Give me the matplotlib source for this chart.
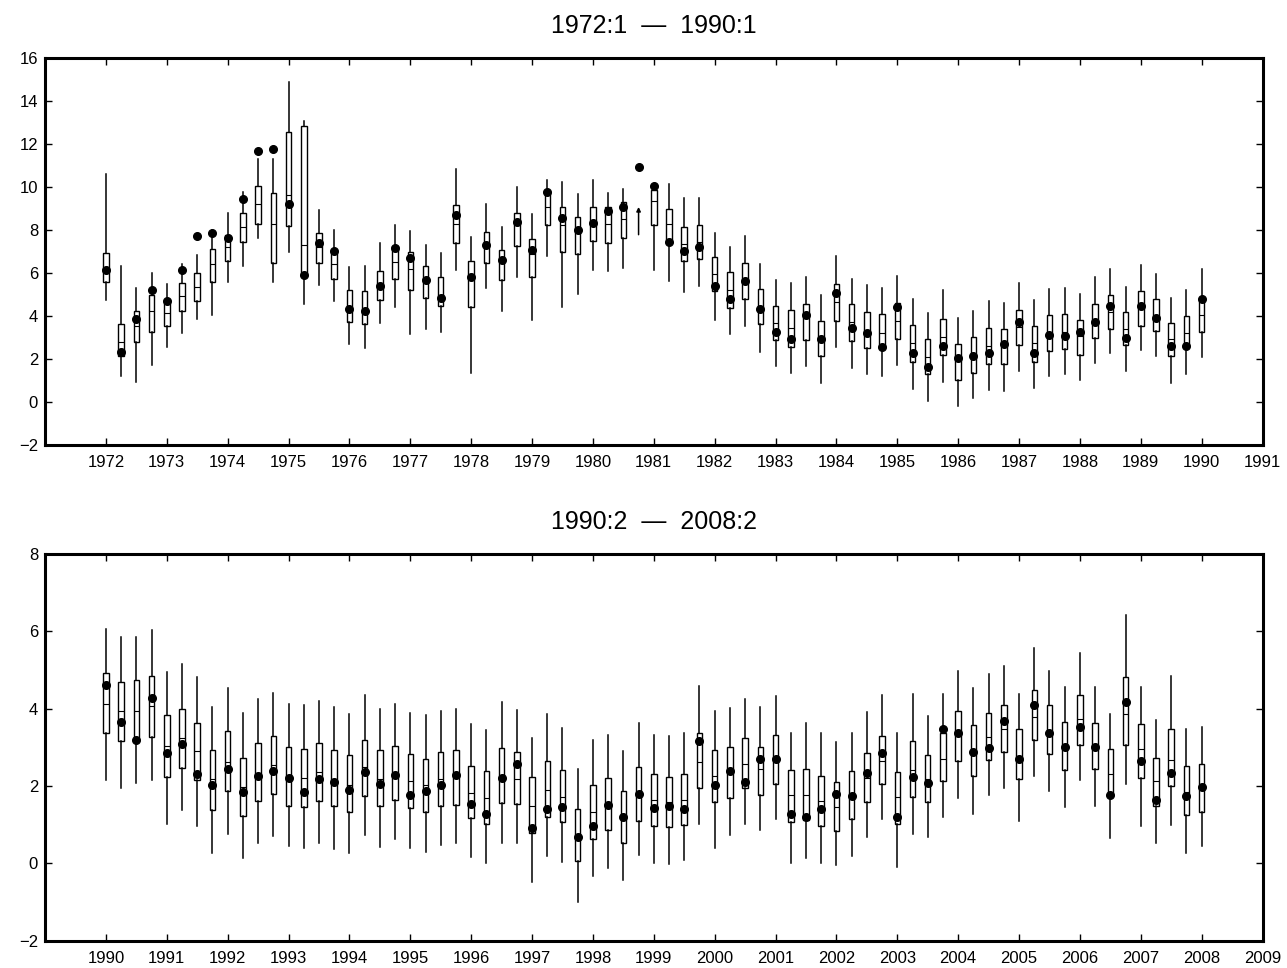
"""
Quarterly box plots of forecast distributions with realised values, two periods.
Box = interquartile range, line = median, whiskers = outer band, dot = actual.
"""

import numpy as np
import matplotlib
matplotlib.use("Agg")
import matplotlib.pyplot as plt

plt.rcParams['font.family'] = ['Liberation Sans', 'DejaVu Sans']

# ── data ────────────────────────────────────────────────────────────────────
TOP_START = 1972   # 1972:1 .. 1990:1
BOT_START = 1990   # 1990:2 .. 2008:2
TOP_TITLE = "1972:1  \u2014  1990:1"
BOT_TITLE = "1990:2  \u2014  2008:2"

# top panel (nan = no quartiles available, range only)
top_hi = [10.63, 6.32, 5.31, 6.01, 5.50, 6.43, 6.85, 8.03, 8.78, 9.77, 11.30, 11.30,
          14.87, 13.08, 8.92, 8.03, 6.28, 6.32, 7.41, 8.22, 7.97, 7.30, 6.96, 10.86,
          7.68, 9.20, 8.16, 10.02, 8.73, 10.35, 10.26, 9.67, 10.35, 9.74, 9.91, 9.08,
          10.16, 10.16, 9.49, 9.49, 7.85, 7.21, 7.75, 6.43, 5.69, 5.56, 5.84, 5.00,
          6.81, 5.73, 5.45, 5.31, 5.87, 4.80, 4.16, 5.21, 3.92, 4.24, 4.71, 4.62,
          5.55, 4.76, 5.27, 5.31, 5.03, 5.81, 6.20, 5.38, 6.39, 5.94, 4.83, 5.24, 6.20]
top_q3 = [6.95, 3.64, 4.23, 4.99, 4.62, 5.53, 6.00, 7.13, 7.79, 8.81, 10.04, 9.73,
          12.56, 12.85, 7.85, 7.01, 5.22, 5.16, 6.11, 7.26, 6.99, 6.32, 5.83, 9.18,
          6.56, 7.93, 7.09, 8.80, 7.61, 9.79, 9.09, 8.61, 9.09, 9.08, 9.31, np.nan,
          9.88, 8.98, 8.17, 8.24, 6.73, 6.06, 6.46, 5.27, 4.49, 4.29, 4.57, 3.78,
          5.50, 4.57, 4.18, 4.09, 4.60, 3.57, 2.95, 3.89, 2.70, 3.05, 3.43, 3.40,
          4.29, 3.53, 4.06, 4.09, 3.82, 4.57, 4.99, 4.18, 5.19, 4.80, 3.68, 3.99, 4.82]
top_med = [6.20, 2.81, 3.56, 4.26, 4.15, 4.93, 5.35, 6.43, 7.21, 8.14, 9.20, 8.31,
           9.65, 7.29, 7.21, 6.43, 4.34, 4.26, 5.42, 6.53, 6.18, 5.66, 4.96, 8.27,
           5.81, 7.32, 6.62, 8.22, 6.87, 9.06, 8.22, 7.91, 8.33, 8.28, 8.50, np.nan,
           9.36, 8.27, 7.37, 7.44, 5.97, 5.24, 5.66, 4.34, 3.68, 3.43, 3.90, 2.98,
           4.65, 3.71, 3.33, 3.23, 3.79, 2.75, 2.11, 3.05, 1.93, 2.16, 2.63, 2.63,
           3.51, 2.75, 3.20, 3.28, 3.09, 3.75, 4.18, 3.40, 4.44, 4.02, 2.94, 3.22, 4.07]
top_q1 = [5.61, 2.16, 2.81, 3.28, 3.56, 4.26, 4.72, 5.58, 6.56, 7.44, 8.28, 6.46,
          8.21, 5.97, 6.48, 5.72, 3.75, 3.64, 4.76, 5.73, 5.22, 4.86, 4.48, 7.41,
          4.44, 6.48, 5.69, 7.27, 5.81, 8.24, 6.98, 6.90, 7.51, 7.41, 7.63, np.nan,
          8.24, 7.54, 6.56, 6.67, 5.16, 4.38, 4.80, 3.64, 2.89, 2.58, 2.91, 2.13,
          3.79, 2.86, 2.52, 2.55, 2.94, 1.88, 1.31, 2.19, 1.04, 1.35, 1.77, 1.77,
          2.66, 1.86, 2.39, 2.47, 2.22, 2.98, 3.40, 2.66, 3.53, 3.33, 2.13, 2.61, 3.28]
top_lo = [4.76, 1.23, 0.92, 1.72, 2.55, 3.20, 3.87, 4.06, 5.58, 6.32, 7.65, 5.58,
          6.98, 4.57, 5.47, 4.69, 2.70, 2.50, 3.67, 4.41, 3.17, 3.39, 3.25, 6.15,
          1.38, 5.30, 4.23, 5.81, 3.82, 6.79, 4.41, 5.02, 6.14, 6.11, 6.23, 7.79,
          6.17, 5.63, 5.13, 5.39, 3.84, 3.17, 3.53, 2.35, 1.68, 1.35, 1.69, 0.90,
          2.56, 1.60, 1.31, 1.21, 1.72, 0.61, 0.08, 0.96, -0.19, 0.19, 0.59, 0.54,
          1.46, 0.64, 1.23, 1.31, 1.04, 1.82, 2.27, 1.43, 2.42, 2.16, 0.89, 1.31, 2.11]
top_actual = [6.17, 2.35, 3.85, 5.24, 4.69, 6.17, 7.72, 7.85, 7.63, 9.45, 11.69, 11.79,
              9.20, 5.92, 7.40, 7.01, 4.34, 4.24, 5.39, 7.16, 6.70, 5.67, 4.83, 8.70,
              5.81, 7.30, 6.60, 8.38, 7.09, 9.77, 8.58, 7.99, 8.33, 8.87, 9.08, 10.94,
              10.04, 7.47, 7.02, 7.24, 5.39, 4.82, 5.66, 4.34, 3.25, 2.94, 4.06, 2.95,
              5.07, 3.43, 3.20, 2.55, 4.41, 2.27, 1.65, 2.61, 2.04, 2.13, 2.27, 2.69,
              3.71, 2.28, 3.14, 3.06, 3.28, 3.71, 4.49, 3.01, 4.49, 3.93, 2.63, 2.61, 4.82]

# bottom panel
bot_hi = [6.06, 5.86, 5.86, 6.03, 4.94, 5.14, 4.81, 4.03, 4.52, 3.88, 4.26, 4.41,
          4.12, 4.09, 4.20, 4.03, 3.85, 4.35, 3.99, 4.13, 3.88, 3.83, 3.95, 3.98,
          3.60, 3.44, 4.17, 3.96, 3.23, 3.85, 3.51, 2.45, 3.18, 3.33, 2.91, 3.62,
          3.33, 3.29, 3.38, 4.58, 3.94, 4.01, 4.25, 4.03, 4.32, 3.38, 3.63, 3.38,
          3.14, 3.37, 3.91, 4.35, 3.38, 4.37, 3.81, 4.38, 4.96, 4.54, 4.89, 5.09,
          4.37, 5.56, 4.98, 4.57, 5.43, 4.56, 3.86, 6.41, 4.57, 3.70, 4.84, 3.47, 3.53]
bot_q3 = [4.91, 4.69, 4.75, 4.85, 3.84, 3.98, 3.64, 2.93, 3.41, 2.73, 3.12, 3.30,
          3.01, 2.96, 3.10, 2.93, 2.79, 3.20, 2.93, 3.04, 2.82, 2.71, 2.89, 2.93,
          2.52, 2.38, 2.97, 2.89, 2.22, 2.65, 2.41, 1.40, 2.02, 2.20, 1.86, 2.49,
          2.31, 2.24, 2.30, 3.37, 2.92, 3.00, 3.24, 3.01, 3.31, 2.42, 2.45, 2.27,
          2.10, 2.39, 2.86, 3.30, 2.35, 3.16, 2.80, 3.38, 3.94, 3.57, 3.88, 4.08,
          3.47, 4.48, 4.08, 3.65, 4.36, 3.64, 2.95, 4.81, 3.61, 2.73, 3.47, 2.51, 2.57]
bot_med = [4.11, 3.94, 3.94, 4.07, 3.03, 3.23, 2.90, 2.18, 2.61, 1.98, 2.33, 2.55,
           2.20, 2.20, 2.35, 2.18, 2.02, 2.50, 2.17, 2.28, 2.13, 2.02, 2.19, 2.28,
           1.83, 1.68, 2.22, 2.19, 1.49, 1.90, 1.71, 0.69, 1.32, 1.52, 1.21, 1.78,
           1.63, 1.59, 1.65, 2.62, 2.27, 2.39, 2.58, 2.43, 2.70, 1.78, 1.76, 1.62,
           1.46, 1.75, 2.21, 2.65, 1.72, 2.41, 2.19, 2.71, 3.36, 2.88, 3.27, 3.47,
           2.77, 3.79, 3.38, 3.00, 3.72, 3.02, 2.30, 3.87, 2.95, 2.14, 2.67, 1.85, 1.98]
bot_q1 = [3.36, 3.15, 3.19, 3.26, 2.22, 2.47, 2.15, 1.38, 1.87, 1.22, 1.61, 1.80,
          1.49, 1.46, 1.61, 1.48, 1.34, 1.74, 1.48, 1.64, 1.42, 1.32, 1.49, 1.52,
          1.18, 1.02, 1.57, 1.53, 0.78, 1.19, 1.06, 0.06, 0.63, 0.86, 0.52, 1.10,
          0.96, 0.94, 0.99, 1.96, 1.58, 1.70, 1.94, 1.77, 2.06, 1.08, 1.12, 0.96,
          0.85, 1.14, 1.60, 2.05, 1.01, 1.71, 1.59, 2.13, 2.64, 2.27, 2.67, 2.87,
          2.17, 3.19, 2.82, 2.41, 3.06, 2.44, 1.77, 3.06, 2.20, 1.48, 2.01, 1.25, 1.32]
bot_lo = [2.15, 1.94, 2.08, 2.15, 1.02, 1.38, 0.98, 0.28, 0.76, 0.13, 0.52, 0.70,
          0.45, 0.41, 0.53, 0.37, 0.28, 0.73, 0.42, 0.63, 0.40, 0.30, 0.48, 0.52,
          0.17, 0.02, 0.54, 0.53, -0.47, 0.19, 0.04, -0.99, -0.32, -0.13, -0.43, 0.21,
          0.02, -0.02, 0.10, 1.01, 0.41, 0.73, 1.02, 0.86, 1.16, 0.02, 0.15, 0.00,
          -0.05, 0.19, 0.69, 1.14, -0.10, 0.75, 0.69, 1.21, 1.70, 1.27, 1.77, 1.96,
          1.10, 2.27, 1.87, 1.45, 2.15, 1.48, 0.67, 2.05, 0.98, 0.52, 1.00, 0.28, 0.46]
bot_actual = [4.62, 3.66, 3.20, 4.27, 2.84, 3.09, 2.31, 2.03, 2.45, 1.85, 2.27, 2.39,
              2.20, 1.85, 2.19, 2.10, 1.91, 2.37, 2.06, 2.28, 1.77, 1.88, 2.02, 2.29,
              1.53, 1.27, 2.20, 2.57, 0.92, 1.40, 1.47, 0.68, 0.96, 1.52, 1.21, 1.79,
              1.42, 1.49, 1.41, 3.17, 2.02, 2.39, 2.10, 2.70, 2.70, 1.27, 1.21, 1.40,
              1.79, 1.75, 2.34, 2.86, 1.20, 2.24, 2.08, 3.47, 3.36, 2.88, 2.99, 3.69,
              2.71, 4.09, 3.38, 3.00, 3.53, 3.02, 1.77, 4.17, 2.64, 1.65, 2.33, 1.74, 1.98]


def draw_panel(ax, start, hi, q3, med, q1, lo, actual, title, ylim):
    hi, q3, med, q1, lo = map(np.asarray, (hi, q3, med, q1, lo))
    x = start + np.arange(len(hi)) / 4.0

    ok = ~np.isnan(med)
    stats = [dict(whislo=lo[i], q1=q1[i], med=med[i], q3=q3[i], whishi=hi[i], fliers=[])
             for i in np.where(ok)[0]]
    ax.bxp(stats, positions=x[ok], widths=0.09, showcaps=False, showfliers=False,
           patch_artist=True, manage_ticks=False,
           boxprops=dict(facecolor='white', edgecolor='black', linewidth=1.0),
           medianprops=dict(color='black', linewidth=0.8),
           whiskerprops=dict(color='black', linewidth=1.1))

    # quarters with only a range: draw it as an arrow
    for i in np.where(~ok)[0]:
        ax.annotate("", xy=(x[i], hi[i]), xytext=(x[i], lo[i]),
                    arrowprops=dict(arrowstyle='-|>', color='black', lw=1.1,
                                    mutation_scale=6, shrinkA=0, shrinkB=0))

    ax.plot(x, actual, 'o', color='black', ms=5.5, zorder=5)

    ax.set_xlim(start - 1, start + 19)
    ax.set_xticks(np.arange(start, start + 20))
    ax.set_ylim(*ylim)
    ax.set_yticks(np.arange(ylim[0], ylim[1] + 1, 2))
    ax.tick_params(direction='in', top=True, right=True, length=5, width=1,
                   labelsize=12)
    ax.tick_params(axis='x', pad=7)
    ax.tick_params(axis='y', pad=5)
    for s in ax.spines.values():
        s.set_linewidth(2.2)
    ax.set_title(title, fontsize=18, pad=18)


fig = plt.figure(figsize=(12.87, 9.68), dpi=100)
ax_top = fig.add_axes([0.035, 0.540, 0.946, 0.400])
ax_bot = fig.add_axes([0.035, 0.028, 0.946, 0.400])

draw_panel(ax_top, TOP_START, top_hi, top_q3, top_med, top_q1, top_lo, top_actual,
           TOP_TITLE, (-2, 16))
draw_panel(ax_bot, BOT_START, bot_hi, bot_q3, bot_med, bot_q1, bot_lo, bot_actual,
           BOT_TITLE, (-2, 8))

fig.savefig("out.png", dpi=100)
plt.close(fig)
